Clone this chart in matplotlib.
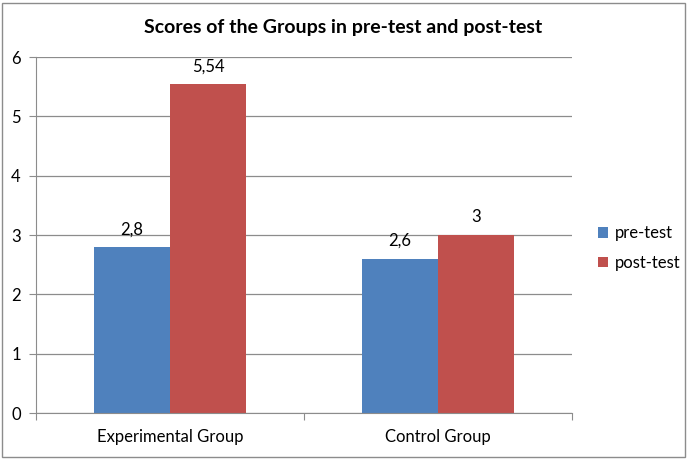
import numpy as np
import matplotlib.pyplot as plt
from matplotlib.patches import Rectangle

groups = ['Experimental Group', 'Control Group']
pre_test = [2.8, 2.6]
post_test = [5.54, 3]
pre_labels = ['2,8', '2,6']
post_labels = ['5,54', '3']

plt.rcParams['font.family'] = ['Lato', 'DejaVu Sans']

fig = plt.figure(figsize=(6.88, 4.59), dpi=100)
ax = fig.add_axes([36/688, 1-413/459, (572-36)/688, (413-57)/459])

x = np.arange(len(groups))
w = 0.284
b1 = ax.bar(x - w/2, pre_test, w, color='#4F81BD', label='pre-test')
b2 = ax.bar(x + w/2, post_test, w, color='#C0504D', label='post-test')

for bars, labs in [(b1, pre_labels), (b2, post_labels)]:
    for r, t in zip(bars, labs):
        ax.annotate(t, (r.get_x() + r.get_width()/2, r.get_height()),
                    xytext=(0, 7), textcoords='offset points',
                    ha='center', va='bottom', fontsize=12)

ax.set_xlim(-0.5, 1.5)
ax.set_ylim(0, 6)
ax.set_yticks(range(0, 7))
ax.yaxis.grid(True, color='#8c8c8c', linewidth=0.9)
ax.set_axisbelow(True)
for s in ['top', 'right']:
    ax.spines[s].set_visible(False)
ax.spines['left'].set_color('#8c8c8c')
ax.spines['bottom'].set_color('#8c8c8c')
ax.tick_params(axis='y', colors='#8c8c8c', labelcolor='black', labelsize=12, length=5, pad=6)

# category labels between boundary ticks
ax.set_xticks([-0.5, 0.5, 1.5])
ax.set_xticklabels([])
ax.tick_params(axis='x', colors='#8c8c8c', length=5)
for xi, g in zip(x, groups):
    ax.text(xi, -0.4, g, ha='center', va='center', fontsize=12)

fig.text(343/688, 1-27/459, 'Scores of the Groups in pre-test and post-test',
         ha='center', va='center', fontsize=14, fontweight='bold')

fig.legend(handles=[b1, b2], loc='center left', bbox_to_anchor=(583/688, 1-248/459),
           frameon=False, fontsize=12, handlelength=0.6, handleheight=0.6,
           handletextpad=0.4, labelspacing=0.8)

fig.patches.append(Rectangle((0.003, 0.004), 0.992, 0.99, transform=fig.transFigure,
                             fill=False, edgecolor='#8c8c8c', linewidth=1))

fig.savefig('out.png', dpi=100)
